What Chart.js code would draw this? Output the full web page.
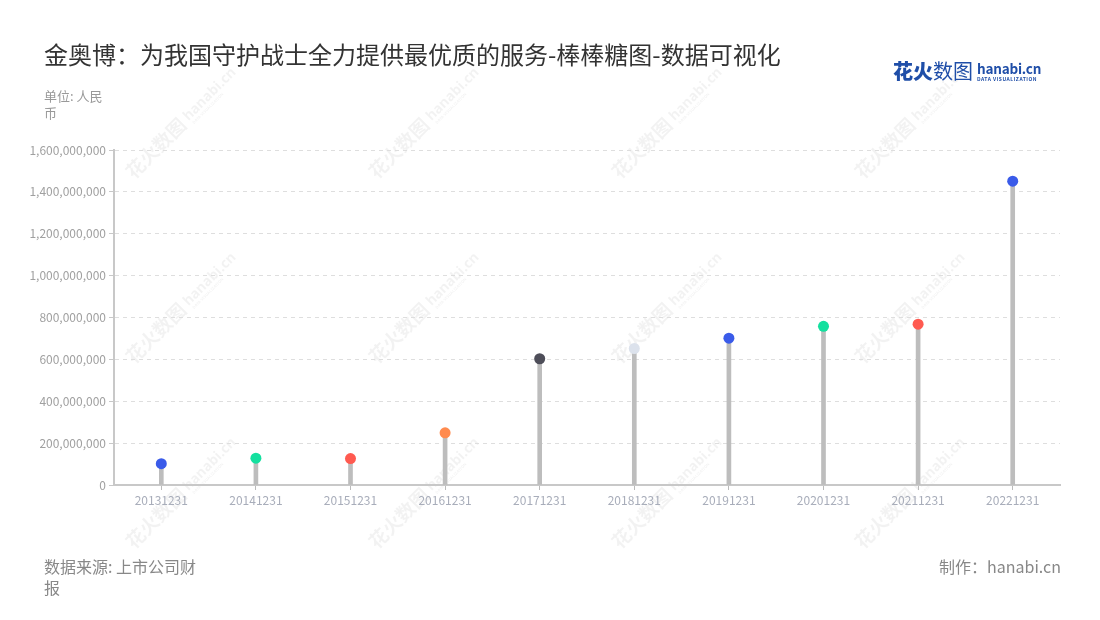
<!DOCTYPE html>
<html>
<head>
<meta charset="utf-8">
<script src="https://cdn.jsdelivr.net/npm/chart.js@4/dist/chart.umd.min.js"></script>
<style>
  html, body { margin: 0; padding: 0; background: #fff; }
  body { width: 1100px; height: 620px; position: relative; overflow: hidden;
    font-family: "Noto Sans CJK SC", "Noto Sans", sans-serif; }
  #chart { position: absolute; left: 0; top: 0; }
  .title { position: absolute; left: 44px; top: 38px; font-size: 24px; line-height: 32px; color: #333; }
  .unit { position: absolute; left: 44px; top: 87px; width: 70px; font-size: 13px; line-height: 17px; color: #999; }
  .source { position: absolute; left: 44px; top: 556px; width: 160px; font-size: 16px; line-height: 21px; color: #888; }
  .maker { position: absolute; right: 39px; top: 556px; font-size: 16px; line-height: 21px; color: #888; }
  .logo { position: absolute; left: 893px; top: 58px; color: #1f4ea8; white-space: nowrap; }
  .logo .cn { font-size: 20px; line-height: 26px; vertical-align: top; }
  .logo .cn b { font-weight: 900; }
  .logo .en { display: inline-block; vertical-align: top; margin-left: 4px; margin-top: 3px; }
  .logo .en .name { font-size: 13.5px; font-weight: bold; line-height: 15px; letter-spacing: -0.2px; }
  .logo .en .sub { font-size: 5px; line-height: 6px; letter-spacing: 0.5px; font-weight: bold; }
</style>
</head>
<body>
<canvas id="chart" width="1100" height="620"></canvas>
<div class="title">金奥博：为我国守护战士全力提供最优质的服务-棒棒糖图-数据可视化</div>
<div class="unit">单位: 人民币</div>
<div class="logo"><span class="cn"><b>花火</b>数图</span><span class="en"><div class="name">hanabi.cn</div><div class="sub">DATA VISUALIZATION</div></span></div>
<div class="source">数据来源: 上市公司财报</div>
<div class="maker">制作：hanabi.cn</div>
<script>
const categories = ['20131231', '20141231', '20151231', '20161231', '20171231',
  '20181231', '20191231', '20201231', '20211231', '20221231'];
const revenue = [102000000, 128000000, 126000000, 249000000, 603000000,
  652000000, 701000000, 758000000, 768000000, 1451000000];
const dotColors = ['#3a5be9', '#14e09f', '#ff5a50', '#ff8b4f', '#4e4e59',
  '#dce2ec', '#3a5be9', '#14e09f', '#ff5a50', '#3a5be9'];
const yMax = 1600000000;
const yStep = 200000000;

// faint diagonal watermark, repeated over the page
const watermark = {
  id: 'watermark',
  beforeDraw(chart) {
    const ctx = chart.ctx;
    ctx.save();
    ctx.fillStyle = 'rgba(0, 0, 0, 0.05)';
    for (let col = 0; col < 4; col++) {
      for (let row = 0; row < 3; row++) {
        ctx.save();
        ctx.translate(134 + col * 243, 180 + row * 185);
        ctx.rotate(-Math.PI / 4);
        ctx.font = 'bold 19px "Noto Sans CJK SC"';
        ctx.fillText('花火数图', 0, 0);
        ctx.font = 'bold 14px "Noto Sans"';
        ctx.fillText('hanabi.cn', 80, -3);
        ctx.font = 'bold 4px "Noto Sans"';
        ctx.fillText('DATA VISUALIZATION', 82, 3);
        ctx.restore();
      }
    }
    ctx.restore();
  },
};

new Chart(document.getElementById('chart'), {
  data: {
    labels: categories,
    datasets: [
      {
        type: 'line',
        data: revenue,
        showLine: false,
        pointRadius: 5.5,
        pointHoverRadius: 5.5,
        pointBorderWidth: 0,
        pointBackgroundColor: dotColors,
        order: 0,
      },
      {
        type: 'bar',
        data: revenue,
        backgroundColor: '#bdbdbd',
        barThickness: 4,
        order: 1,
      },
    ],
  },
  options: {
    responsive: false,
    animation: false,
    layout: { padding: { top: 150, right: 40, bottom: 105, left: 0 } },
    plugins: {
      legend: { display: false },
      tooltip: { enabled: false },
    },
    scales: {
      x: {
        afterFit: (scale) => { scale.height = 30; },
        grid: { offset: false, drawOnChartArea: false, tickLength: 5, tickColor: '#bbb' },
        border: { color: '#c8c8c8', width: 2 },
        ticks: {
          color: '#a8adba',
          padding: 3,
          font: { size: 12, family: '"Noto Sans CJK SC"' },
        },
      },
      y: {
        min: 0,
        max: yMax,
        afterFit: (scale) => { scale.width = 114; },
        grid: { color: '#dedede', tickLength: 5, tickColor: '#c8c8c8' },
        border: { color: '#c8c8c8', width: 2, dash: [4, 4] },
        ticks: {
          stepSize: yStep,
          color: '#a0a0a0',
          padding: 3,
          font: { size: 12, family: '"Noto Sans CJK SC"' },
          callback: (v) => v.toLocaleString('en-US'),
        },
      },
    },
  },
  plugins: [watermark],
});
</script>
</body>
</html>
